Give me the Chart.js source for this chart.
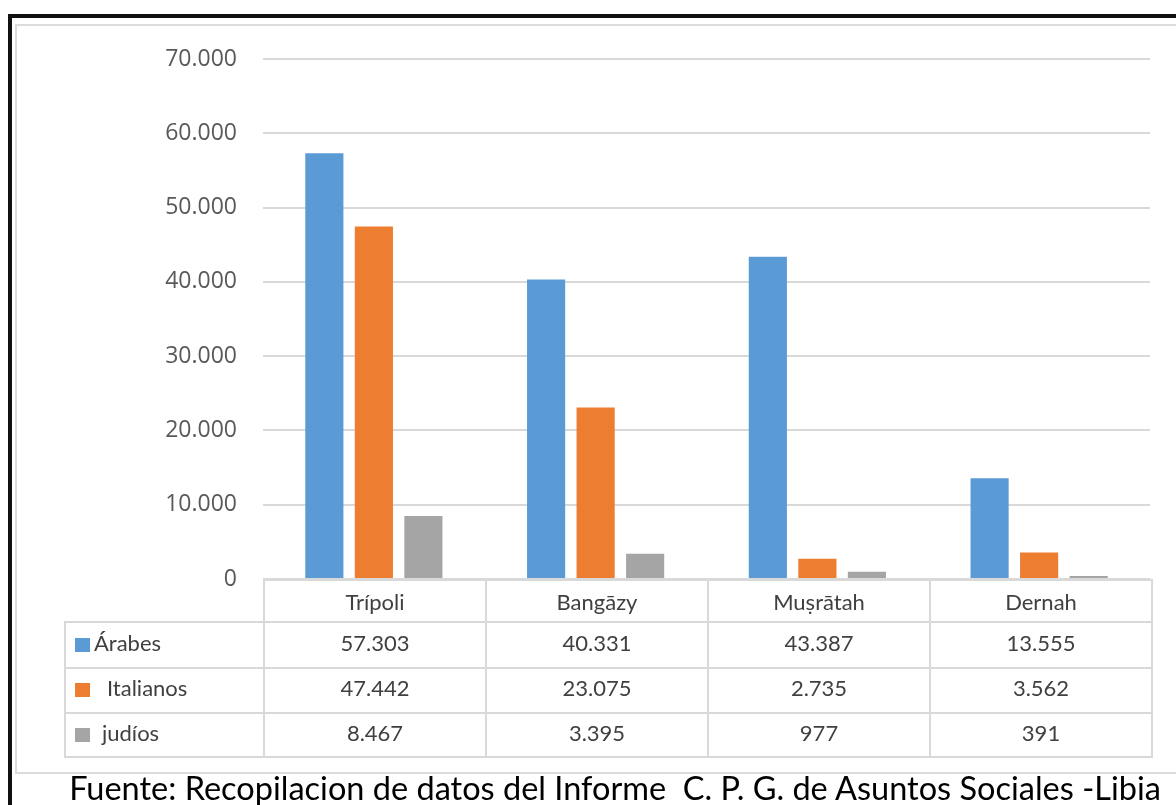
<!DOCTYPE html>
<html>
<head>
<meta charset="utf-8">
<script src="https://cdn.jsdelivr.net/npm/chart.js@4.4.0/dist/chart.umd.min.js"></script>
<style>
  body { margin: 0; background: #fff; width: 1176px; height: 805px; overflow: hidden; position: relative; }
  #outer { position: absolute; left: 8px; top: 14px; width: 1300px; height: 1000px; border: 4px solid #111; box-sizing: border-box; }
  #inner { position: absolute; left: 15px; top: 24px; width: 1300px; height: 750px; border: 2px solid #dcdcdc; box-sizing: border-box; }
  #populationChart { position: absolute; left: 0; top: 0; }
  #dataTable { position: absolute; left: 64px; top: 579px; border-collapse: collapse; table-layout: fixed; width: 1087px;
    font-family: "Liberation Sans Narrow", Lato, sans-serif; font-size: 22px; color: #404040; }
  #dataTable td { border: 2px solid #d9d9d9; text-align: center; padding: 0; }
  #dataTable tr.row td { padding-bottom: 6px; }
  #dataTable td.lbl { text-align: left; }
  #dataTable td.blank { border: none; }
  .key { display: inline-block; width: 15px; height: 14px; margin-left: 9px; vertical-align: -1px; }
  #source { position: absolute; left: 0; width: 1230px; top: 768px; text-align: center;
    font-family: "Liberation Sans Narrow", Lato, sans-serif; font-size: 32.5px; color: #000; }
</style>
</head>
<body>
<div id="outer"></div>
<div id="inner"></div>
<canvas id="populationChart" width="1176" height="805"></canvas>
<table id="dataTable"></table>
<div id="source">Fuente: Recopilacion de datos del Informe&nbsp; C. P. G. de Asuntos Sociales -Libia</div>
<script>
var categories = ['Trípoli', 'Bangāzy', 'Muṣrātah', 'Dernah'];
var seriesNames = ['Árabes', 'Italianos', 'judíos'];
var arabes = [57303, 40331, 43387, 13555];
var italianos = [47442, 23075, 2735, 3562];
var judios = [8467, 3395, 977, 391];
var seriesColors = ['#5B9BD5', '#ED7D31', '#A5A5A5'];

function fmt(n) {
  return String(n).replace(/\B(?=(\d{3})+(?!\d))/g, '.');
}

var allSeries = [arabes, italianos, judios];

var pop = document.getElementById('populationChart').getContext('2d');
var myChart = new Chart(pop, {
  type: 'bar',
  data: {
    labels: categories,
    datasets: allSeries.map(function (vals, i) {
      return {
        label: seriesNames[i],
        data: vals,
        backgroundColor: seriesColors[i],
        categoryPercentage: 0.67,
        barPercentage: 0.77
      };
    })
  },
  options: {
    responsive: false,
    animation: false,
    layout: { padding: { left: 0, top: 59, right: 26, bottom: 226 } },
    plugins: { legend: { display: false }, tooltip: { enabled: false } },
    scales: {
      x: { display: false },
      y: {
        min: 0,
        max: 70000,
        afterFit: function (scale) { scale.width = 263; },
        ticks: {
          stepSize: 10000,
          padding: 26,
          color: '#595959',
          font: { family: 'Open Sans', size: 23 },
          callback: function (v) { return fmt(v); }
        },
        grid: { color: '#d9d9d9', lineWidth: 2, drawTicks: false },
        border: { display: false }
      }
    }
  }
});

// data table under the plot
var tbl = document.getElementById('dataTable');
var html = '<colgroup><col style="width:199px">';
categories.forEach(function () { html += '<col style="width:222px">'; });
html += '</colgroup><tr style="height:42px"><td class="blank"></td>';
categories.forEach(function (c) { html += '<td>' + c + '</td>'; });
html += '</tr>';
var gaps = [4, 17, 12];
var heights = [46, 45, 44];
seriesNames.forEach(function (name, i) {
  html += '<tr class="row" style="height:' + heights[i] + 'px"><td class="lbl"><span class="key" style="background:' + seriesColors[i] +
    ';margin-right:' + gaps[i] + 'px"></span>' + name + '</td>';
  allSeries[i].forEach(function (v) { html += '<td>' + fmt(v) + '</td>'; });
  html += '</tr>';
});
tbl.innerHTML = html;
</script>
</body>
</html>
